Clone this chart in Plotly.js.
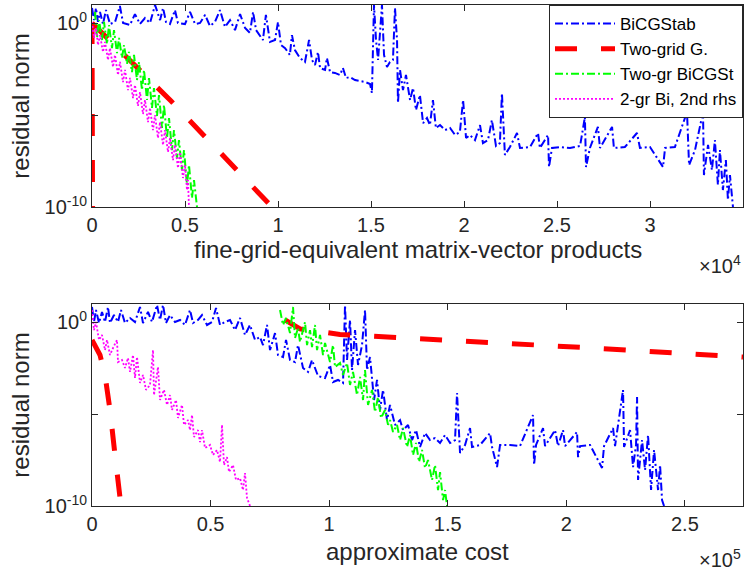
<!DOCTYPE html>
<html><head><meta charset="utf-8">
<script src="https://cdn.plot.ly/plotly-3.0.1.min.js"></script>
<style>html,body{margin:0;padding:0;background:#fff}</style>
</head><body><div id="chart" style="width:756px;height:573px"></div>
<script>
const seriesNames = ['BiCGStab','Two-grid G.','Two-gr BiCGSt','2-gr Bi, 2nd rhs'];

// ---- top panel: x = fine-grid-equivalent matrix-vector products ----
const bicgTopX = [0,110,215,320,430,590,750,970,1240,1500,1670,2040,2310,2580,2850,3120,3390,3660,3820,3980,4190,4460,4620,5000,5270,5540,5810,6080,6340,6610,6880,7150,7420,7690,7960,8230,8490,8660,8820,9030,9190,9350,9570,9840,10000,10160,10380,10640,10750,10910,11180,11450,11670,11830,11990,12150,12260,12530,12630,12800,13060,13330,13490,13660,13870,14140,14410,14680,14950,15050,15160,15270,15380,15480,15590,15700,15860,16020,16180,16290,16400,16450,16560,16720,16880,17100,17260,17420,17630,17800,18010,18170,18330,18490,18710,18980,19250,19520,19780,19950,20110,20320,20590,20860,21020,21290,21500,21720,21930,22040,22200,22470,22850,23010,23550,23980,24080,24520,24570,24730,25160,25700,26240,26500,26560,26770,27200,27310,27960,28060,28650,29300,29460,30000,30700,30810,31340,31990,32100,32420,32850,32900,33120,33330,33490,33650,33760,33920,34080,34190,34300,34460];
const bicgTopY = [6.9,1.5,6.9,1.2,4.2,0.92,5.3,0.92,1.2,8.8,1.05,0.81,3.2,0.92,1.96,1.05,10,1.5,6.9,1.19,0.92,5.3,1.05,0.92,4.2,0.92,1.05,2.9,0.72,1.19,5.3,0.63,1.5,0.43,3.2,0.56,0.30,4.2,0.43,0.205,0.124,2.9,0.097,0.124,1.19,0.066,0.045,0.019,0.23,0.035,0.013,7.9e-3,0.124,0.0101,5.4e-3,0.0275,3.7e-3,2.9e-3,0.013,2.2e-3,2.0e-3,1.54e-3,3.7e-3,1.06e-3,1.2e-3,8.2e-4,7.3e-4,6.4e-4,5.0e-4,1.6e-4,10,0.124,0.0101,0.43,10,0.019,4.2e-3,7.9e-3,0.0101,6.9,0.124,4.6e-5,2.9e-3,2.3e-4,1.54e-3,6.7e-5,3.0e-4,1.9e-5,1.25e-4,3.7e-6,7.0e-6,2.9e-6,6.7e-5,2.0e-6,2.9e-6,1.55e-6,2.0e-6,8.3e-7,1.2e-6,6.7e-5,5.7e-7,8.3e-7,4.4e-7,2.9e-6,3.0e-7,4.4e-7,5.4e-6,2.1e-7,3.0e-7,1.6e-4,6.8e-8,1.85e-7,1.07e-6,1.63e-7,1.85e-7,1.07e-6,1.63e-7,8.3e-7,1.5e-8,1.63e-7,1.85e-7,1.63e-7,2.1e-7,7.9e-6,1.5e-8,1.63e-7,2.3e-6,1.63e-7,2.3e-6,1.63e-7,1.85e-7,1.07e-6,1.63e-7,1.85e-7,1.5e-8,1.63e-7,1.85e-7,1.5e-5,1.93e-8,1.26e-7,1.5e-5,5.5e-9,2.4e-7,1.03e-8,4.4e-7,1.6e-9,1.26e-7,8.4e-10,3.6e-8,2.4e-10,5.5e-9,1e-10];

const redTopX = [0,30,null,0,4250,9680];
const redTopY = [1.19,1e-10,null,1.05,5.9e-5,1e-10];

const greenTopX = [161,269,376,538,645,806,914,1075,1183,1344,1452,1613,1720,1882,1989,2150,2258,2419,2527,2688,2796,2957,3064,3226,3333,3494,3602,3763,3871,4032,4140,4301,4408,4570,4677,4838,4946,5107,5215,5376,5484,5645];
const greenTopY = [4.2,0.16,1.5,0.124,1.19,0.075,0.81,0.045,0.43,0.0243,0.16,0.013,0.066,6.1e-3,0.0275,2.2e-3,0.019,8.2e-4,7.9e-3,2.3e-4,2.9e-3,6.7e-5,1.06e-3,2.5e-5,3.0e-4,9.0e-6,1.25e-4,2.0e-6,3.6e-5,5.7e-7,7.0e-6,1.26e-7,1.55e-6,4.6e-8,4.4e-7,1.03e-8,1.26e-7,1.6e-9,1.93e-8,3.1e-10,2.9e-9,1e-10];

const magTopX = [0,108,215,323,430,591,699,860,968,1129,1236,1398,1505,1667,1774,1935,2043,2204,2312,2473,2580,2742,2849,3011,3118,3279,3387,3548,3656,3817,3924,4086,4193,4355,4462,4623,4731,4892,5000,5107,5161,5215];
const magTopY = [1.19,0.16,0.56,0.066,0.23,0.0275,0.097,0.0101,0.045,4.2e-3,0.019,1.54e-3,7.9e-3,6.4e-4,2.9e-3,2.3e-4,1.06e-3,8.6e-5,4.4e-4,3.2e-5,1.8e-4,1.16e-5,6.7e-5,4.2e-6,2.5e-5,1.55e-6,1.02e-5,5.7e-7,4.2e-6,2.4e-7,1.55e-6,9.8e-8,5.7e-7,3.6e-8,2.4e-7,1.32e-8,9.8e-8,3.8e-9,1.93e-8,8.4e-10,2.9e-9,1e-10];

// ---- bottom panel: x = approximate cost ----
const bicgBotX = [0,843,1687,2952,4217,5482,6747,7591,9277,10964,12229,13916,16025,18133,20242,21507,23615,25302,27411,28676,29941,31206,32893,35001,37110,39218,41327,42592,44700,46387,48496,50604,52291,53978,56086,58195,60303,62412,64520,66629,68737,70846,72111,73798,75063,77171,78436,80545,81810,83497,85605,86870,88979,91087,92774,95304,98256,100365,101630,103738,105847,106690,107534,108799,109642,110907,112172,113859,115124,115968,117233,118919,120184,121450,122715,124402,125667,127775,129884,131149,133257,134944,136631,138318,140426,142535,144643,146752,148860,150969,153077,153921,155186,157294,159403,160246,163620,167837,168680,170789,172054,176271,180488,185970,186393,187236,190188,191031,195248,196512,198621,199464,204524,204946,205789,210006,215067,215910,219706,220549,223923,224345,226875,228140,229405,229827,230248,231935,233200,234465,235731,236996,238683,239526,240369,241212];
const bicgBotY = [6.9,1.05,4.7,0.92,3.7,1.05,6.9,0.92,2.5,1.05,4.7,0.92,1.73,1.05,6.9,0.92,3.7,1.05,8.8,1.35,8.8,0.92,2.5,1.05,1.35,0.72,4.7,0.92,1.35,2.5,0.72,1.05,6.05,0.72,1.05,1.35,0.38,1.73,0.205,0.72,0.11,0.16,0.058,0.72,0.031,0.26,0.0167,0.013,0.11,8.9e-3,6.9e-3,0.058,3.3e-3,2.0e-3,8.9e-3,1.2e-3,9.3e-4,4.8e-3,5.65e-4,7.3e-4,5.0e-4,8.8,8.9e-3,1.35,2.5e-3,0.38,4.8e-3,0.058,4.7,2.5e-3,0.013,5.9e-5,7.3e-4,1.69e-5,2.1e-4,4.8e-6,3.2e-5,2.6e-6,4.8e-6,1.37e-6,2.6e-6,3.9e-7,1.37e-6,1.63e-7,9.4e-7,3.9e-7,5.0e-7,2.7e-7,7.3e-7,2.7e-7,3.9e-7,1.42e-4,7.7e-8,2.1e-7,1.76e-6,1.63e-7,2.1e-7,9.4e-7,1.63e-7,1.32e-8,2.1e-7,2.1e-7,1.84e-7,9.0e-6,1.7e-8,2.1e-7,1.76e-6,1.84e-7,1.37e-6,1.84e-7,1.37e-6,1.84e-7,1.07e-6,4.6e-8,1.84e-7,2.1e-7,1.17e-8,1.84e-7,1.76e-6,1.84e-7,2.1e-4,1.63e-7,1.37e-6,1.32e-8,2.1e-7,8.6e-5,2.6e-9,3.9e-7,9.1e-9,7.3e-7,7.4e-10,1.12e-7,7.4e-10,1.7e-8,2.1e-10,1e-10];

const redBotX = [0,3370,5480,7590,9700,12230,null,81390,87710,104580,150970,214220,274500];
const redBotY = [0.11,0.0167,1.36e-3,1.69e-5,6.0e-8,1e-10,null,1.35,0.44,0.22,0.11,0.038,0.0129];

const greenBotX = [79280,80545,81810,83497,84762,85605,86870,87714,89822,90666,91931,92774,94039,94883,96148,97413,98256,100365,101630,102473,104582,105847,107534,108799,110064,111751,113016,114281,115124,116389,118076,119341,120606,121871,123558,124823,125667,126932,128619,129884,131149,132836,134101,135366,136631,137896,139161,140426,141691,143378,144643,145908,146752,148017,148860,149704];
const greenBotY = [4.7,0.72,1.73,0.26,6.9,0.14,0.49,0.085,1.05,0.058,0.38,0.045,0.72,0.031,0.205,0.0167,0.075,6.9e-3,0.058,3.7e-3,6.1e-3,1.36e-3,6.1e-3,3.9e-4,2.0e-3,1.1e-4,1.06e-3,5.9e-5,2.5e-3,3.2e-5,2.1e-4,1.31e-5,8.6e-5,6.2e-6,1.69e-5,2.6e-6,4.8e-6,1.07e-6,2.6e-6,3.9e-7,1.76e-6,1.63e-7,7.3e-7,6.0e-8,2.7e-7,2.5e-8,1.12e-7,1.17e-8,3.2e-8,2.6e-9,1.7e-8,7.4e-10,7.1e-9,2.1e-10,7.4e-10,1e-10];

const magBotX = [0,843,1687,2952,4217,5482,6325,7591,8856,10543,10964,12651,13916,15181,16025,17290,18133,18977,20242,21507,22772,24459,25724,26146,27832,28676,30363,31628,32893,33736,35423,36266,37953,38796,40483,41327,42170,43013,44700,45543,46387,47652,49760,51026,52713,53978,54821,55664,56930,57773,59460,60725,62412,63677,64520,65364,66629];
const magBotY = [4.7,0.38,1.05,0.11,0.205,0.031,0.11,0.0167,0.04,0.11,6.9e-3,8.9e-3,3.3e-3,0.0115,2.0e-3,0.0167,9.3e-4,0.013,5.0e-4,1.36e-3,2.1e-4,3.9e-4,0.031,1.1e-4,3.7e-3,5.9e-5,2.1e-4,3.2e-5,1.1e-4,1.69e-5,5.9e-5,6.2e-6,3.2e-5,2.6e-6,4.8e-6,1.37e-6,9.0e-6,5.7e-7,1.37e-6,3.0e-7,1.37e-6,1.44e-7,2.1e-7,6.0e-8,1.12e-7,2.5e-8,2.6e-6,1.7e-8,4.6e-8,7.1e-9,1.7e-8,2.6e-9,3.3e-9,7.4e-10,6.2e-9,2.7e-10,1e-10];

// ---- ticks ----
const xTopTickVals = [0,5000,10000,15000,20000,25000,30000,35000];
const xTopTickText = ['0','0.5','1','1.5','2','2.5','3','3.5'];
const xBotTickVals = [0,50000,100000,150000,200000,250000];
const xBotTickText = ['0','0.5','1','1.5','2','2.5'];
const yTickVals = [1e-10,1];
const yTickText = ['10<sup>-10</sup>','10<sup>0</sup>'];
const yMinorTickVals = [1e-5];
const xTitles = ['fine-grid-equivalent matrix-vector products','approximate cost'];
const yTitle = 'residual norm';

const FONT = 'Liberation Sans, Arial, Helvetica, sans-serif';
const INK = '#262626';
const styles = [
  {color:'#0000FF', width:2, dash:'8px,3px,2px,3px'},
  {color:'#FF0000', width:5, dash:'22px,24px'},
  {color:'#00FF00', width:2, dash:'8px,3px,2px,3px'},
  {color:'#FF00FF', width:1.8, dash:'2px,2px'}
];
function tr(x,y,i,xa,ya,show){
  return {x:x,y:y,type:'scatter',mode:'lines',name:seriesNames[i],line:styles[i],
    xaxis:xa,yaxis:ya,showlegend:show,legendgroup:'g'+i,hoverinfo:'skip'};
}
const data = [
  tr(bicgTopX,bicgTopY,0,'x','y',true),
  tr(redTopX,redTopY,1,'x','y',true),
  tr(greenTopX,greenTopY,2,'x','y',true),
  tr(magTopX,magTopY,3,'x','y',true),
  tr(bicgBotX,bicgBotY,0,'x2','y2',false),
  tr(redBotX,redBotY,1,'x2','y2',false),
  tr(greenBotX,greenBotY,2,'x2','y2',false),
  tr(magBotX,magBotY,3,'x2','y2',false)
];
const ax = {showline:true,linecolor:INK,linewidth:1,mirror:'ticks',ticks:'inside',ticklen:6,
  tickcolor:INK,tickwidth:1,showgrid:false,zeroline:false,tickfont:{family:FONT,size:20,color:INK}};
const yMinor = {tickmode:'array',tickvals:yMinorTickVals,ticks:'inside',ticklen:6,tickcolor:INK,tickwidth:1,showgrid:false};
const titleFont = {family:FONT,size:24,color:INK};
const layout = {
  width:756,height:573,margin:{l:92,r:13,t:5,b:67},
  paper_bgcolor:'#fff',plot_bgcolor:'#fff',
  font:{family:FONT,color:INK},
  xaxis:Object.assign({},ax,{domain:[0,1],anchor:'y',range:[0,35000],tickmode:'array',
    tickvals:xTopTickVals,ticktext:xTopTickText}),
  yaxis:Object.assign({},ax,{domain:[0.5968,1],anchor:'x',type:'log',range:[-10,1],tickmode:'array',
    tickvals:yTickVals,ticktext:yTickText,minor:yMinor,
    title:{text:yTitle,font:titleFont,standoff:8}}),
  xaxis2:Object.assign({},ax,{domain:[0,1],anchor:'y2',range:[0,274500],tickmode:'array',
    tickvals:xBotTickVals,ticktext:xBotTickText}),
  yaxis2:Object.assign({},ax,{domain:[0,0.4032],anchor:'x2',type:'log',range:[-10,1],tickmode:'array',
    tickvals:yTickVals,ticktext:yTickText,minor:yMinor,
    title:{text:yTitle,font:titleFont,standoff:8}}),
  showlegend:true,
  legend:{x:1,xanchor:'right',y:1,yanchor:'top',bgcolor:'#fff',bordercolor:INK,borderwidth:1,
    font:{family:FONT,size:17,color:'#000'},itemwidth:60,tracegroupgap:0},
  annotations:[
    {xref:'paper',yref:'paper',x:0.5,y:0.512,xanchor:'center',yanchor:'middle',showarrow:false,
     text:xTitles[0],font:titleFont},
    {xref:'paper',yref:'paper',x:0.5,y:-0.09,xanchor:'center',yanchor:'middle',showarrow:false,
     text:xTitles[1],font:titleFont},
    {xref:'paper',yref:'paper',x:1,y:0.482,xanchor:'right',yanchor:'middle',showarrow:false,
     text:'×10<sup>4</sup>',font:{family:FONT,size:20,color:INK}},
    {xref:'paper',yref:'paper',x:1,y:-0.104,xanchor:'right',yanchor:'middle',showarrow:false,
     text:'×10<sup>5</sup>',font:{family:FONT,size:20,color:INK}}
  ]
};
Plotly.newPlot('chart',data,layout,{displayModeBar:false,staticPlot:true});
</script></body></html>
